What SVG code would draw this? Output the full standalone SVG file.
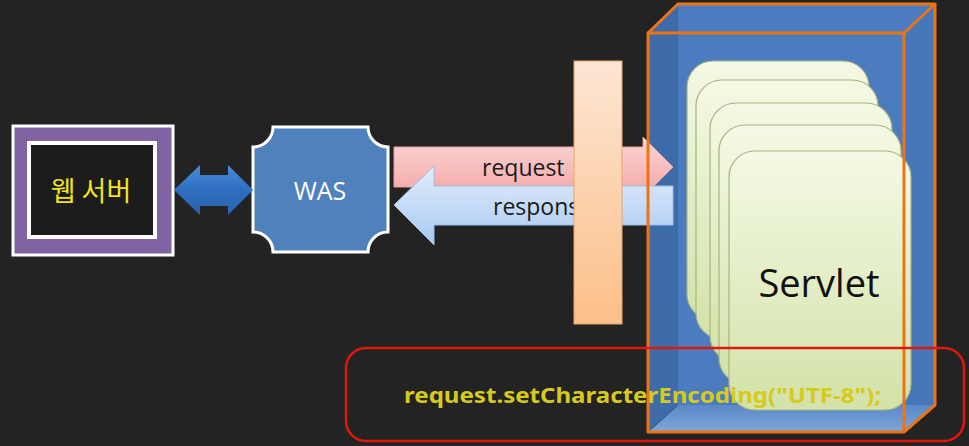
<svg xmlns="http://www.w3.org/2000/svg" width="969" height="446" viewBox="0 0 969 446">
  <defs>
    <linearGradient id="gDouble" x1="0" y1="0" x2="0" y2="1">
      <stop offset="0" stop-color="#4a8ad8"/>
      <stop offset="0.5" stop-color="#2f6fc0"/>
      <stop offset="1" stop-color="#2a62ad"/>
    </linearGradient>
    <linearGradient id="gReq" x1="0" y1="0" x2="0" y2="1">
      <stop offset="0" stop-color="#fcd6d6"/>
      <stop offset="1" stop-color="#f3a6a6"/>
    </linearGradient>
    <linearGradient id="gRes" x1="0" y1="0" x2="0" y2="1">
      <stop offset="0" stop-color="#e2edfc"/>
      <stop offset="1" stop-color="#a9c9f2"/>
    </linearGradient>
    <linearGradient id="gBar" x1="0" y1="0" x2="0" y2="1">
      <stop offset="0" stop-color="#fde6d4"/>
      <stop offset="1" stop-color="#fbbf88"/>
    </linearGradient>
    <linearGradient id="gCard" x1="0" y1="0" x2="0" y2="1">
      <stop offset="0" stop-color="#f4f9e4"/>
      <stop offset="1" stop-color="#d2e2a8"/>
    </linearGradient>
    <linearGradient id="gFloor" x1="0" y1="0" x2="0" y2="1">
      <stop offset="0" stop-color="#5a88c6"/>
      <stop offset="1" stop-color="#7ea6da"/>
    </linearGradient>
    <style>
      .lbl { font-family: "Open Sans", "Noto Sans", "Noto Sans CJK KR", sans-serif; }
      .card { fill: url(#gCard); stroke: #a9b284; stroke-width: 1.2; }
      .edge { fill: none; stroke: #ec7414; stroke-width: 3; stroke-linejoin: round; }
    </style>
  </defs>

  <!-- background -->
  <rect width="969" height="446" fill="#232323"/>

  <!-- web server -->
  <g id="webserver">
    <rect x="13" y="126" width="160" height="129" fill="#8064a2" stroke="#ffffff" stroke-width="3"/>
    <rect x="29" y="143" width="126" height="94" fill="#1c1c1c" stroke="#ffffff" stroke-width="4"/>
    <text x="91" y="201" font-size="27" fill="#f2e41c" text-anchor="middle" font-family="Noto Sans CJK KR, sans-serif">웹 서버</text>
  </g>

  <!-- WAS -->
  <g id="was">
    <path d="M273,127 H368 A20,20 0 0 0 388,147 V232 A20,20 0 0 0 368,252 H273 A20,20 0 0 0 253,232 V147 A20,20 0 0 0 273,127 Z" fill="#4f81bd" stroke="#ffffff" stroke-width="3"/>
    <text class="lbl" x="320" y="200" font-size="25" fill="#ffffff" text-anchor="middle">WAS</text>
  </g>

  <!-- servlet container (box) -->
  <g id="container">
    <polygon points="678,4 935,4 935,405 678,405" fill="#4a7cbf"/>
    <polygon points="648,33 678,4 935,4 904,33" fill="#4a7cbf"/>
    <polygon points="648,33 678,4 678,405 648,432" fill="#3e6caa"/>
    <polygon points="904,33 935,4 935,405 904,432" fill="#4677b9"/>
    <polygon points="648,432 678,405 935,405 904,432" fill="url(#gFloor)"/>
    <line x1="678" y1="405" x2="648" y2="432" stroke="#2f5584" stroke-width="1"/>
  </g>

  <!-- connectors -->
  <g id="connectors">
    <polygon points="174,190 200,165 200,175 228,175 228,165 253,190 228,215 228,206 200,206 200,215" fill="url(#gDouble)"/>
    <g id="request">
      <polygon points="394,147 643,147 643,137 673,167 643,197 643,187 394,187" fill="url(#gReq)" stroke="#eaa0a0" stroke-width="1"/>
      <text class="lbl" x="482" y="176" font-size="23" fill="#1a1a1a">request</text>
    </g>
    <g id="response">
      <polygon points="673,186 434,186 434,166 394,205 434,245 434,225 673,225" fill="url(#gRes)" stroke="#9dbde8" stroke-width="1"/>
      <text class="lbl" x="493" y="215" font-size="23" fill="#1a1a1a">response</text>
    </g>
  </g>

  <!-- filter -->
  <g id="filter">
    <rect x="574" y="61" width="48" height="263" fill="url(#gBar)" stroke="#e8a46a" stroke-width="1"/>
  </g>

  <!-- servlets -->
  <g id="servlets">
    <rect class="card" x="687" y="61" width="182" height="259" rx="26"/>
    <rect class="card" x="696" y="80" width="182" height="259" rx="26"/>
    <rect class="card" x="710" y="103" width="182" height="259" rx="26"/>
    <rect class="card" x="719" y="125" width="182" height="259" rx="26"/>
    <rect class="card" x="729" y="151" width="182" height="259" rx="26"/>
    <text class="lbl" x="819" y="297" font-size="38" fill="#111111" text-anchor="middle">Servlet</text>
  </g>

  <!-- container outline -->
  <g id="container-edges">
    <rect class="edge" x="648" y="33" width="256" height="399"/>
    <polyline class="edge" points="648,33 678,4 935,4 904,33"/>
    <polyline class="edge" points="935,4 935,405 904,432"/>
  </g>

  <!-- encoding note -->
  <g id="note">
    <rect x="346" y="348" width="618" height="93" rx="20" fill="none" stroke="#e0180c" stroke-width="2.5"/>
    <text x="404" y="403" font-family="Noto Sans, Open Sans, sans-serif" font-weight="bold" font-size="22" fill="#d6ca1c" textLength="477" lengthAdjust="spacingAndGlyphs">request.setCharacterEncoding("UTF-8");</text>
  </g>
</svg>
